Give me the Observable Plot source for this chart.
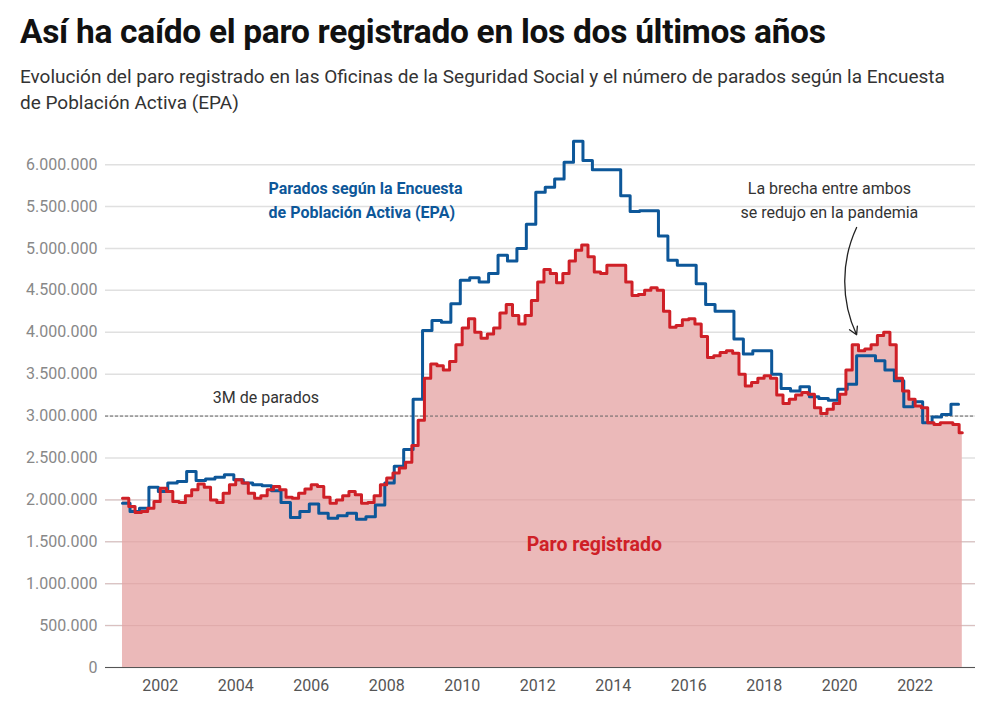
<!DOCTYPE html>
<html><head><meta charset="utf-8">
<script src="https://cdn.jsdelivr.net/npm/d3@7"></script>
<script src="https://cdn.jsdelivr.net/npm/@observablehq/plot@0.6"></script>
<style>
body{margin:0;background:#fff;font-family:Roboto,sans-serif;}
#wrap{padding:0 0 0 20px;width:950px;height:130px;box-sizing:border-box}
h1{font-size:33.5px;font-weight:700;margin:0;padding-top:12px;color:#111;letter-spacing:-0.3px;line-height:40px}
p{font-size:19px;color:#333;margin:12px 0 0 0;line-height:26px}
</style></head><body>
<div id="wrap">
<h1>Así ha caído el paro registrado en los dos últimos años</h1>
<p>Evolución del paro registrado en las Oficinas de la Seguridad Social y el número de parados según la Encuesta de Población Activa (EPA)</p>
</div>
<div id="chart"></div>
<script>
// EPA quarterly (millions), first value from Jan 2001
const epaValues = [1.96,1.86,1.90,2.15,2.10,2.20,2.22,2.34,2.23,2.25,2.27,2.30,2.24,2.20,2.18,2.17,
2.11,1.97,1.79,1.86,1.95,1.84,1.78,1.81,1.84,1.77,1.80,1.94,2.20,2.40,2.60,3.20,
4.02,4.14,4.12,4.34,4.62,4.65,4.60,4.70,4.92,4.85,5.00,5.29,5.67,5.73,5.83,6.03,
6.28,6.05,5.94,5.94,5.94,5.63,5.44,5.45,5.45,5.15,4.86,4.80,4.80,4.58,4.33,4.25,
4.25,3.92,3.74,3.78,3.78,3.50,3.33,3.30,3.35,3.23,3.21,3.19,3.32,3.38,3.72,3.72,
3.66,3.55,3.42,3.11,3.17,2.92,2.99,3.02,3.14];
// Paro registrado, every two months (Jan, Mar, May, Jul, Sep, Nov), millions
const paroValues = [
2.02,1.92,1.85,1.86,1.90,1.98, 2.14,2.10,1.98,1.97,2.05,2.12, 2.19,2.15,2.00,1.97,2.08,2.18,
2.24,2.20,2.08,2.02,2.05,2.12, 2.16,2.12,2.03,2.02,2.08,2.13, 2.18,2.16,2.03,1.96,2.00,2.05,
2.10,2.06,1.96,1.97,2.05,2.18, 2.26,2.32,2.38,2.45,2.65,2.95, 3.45,3.62,3.60,3.55,3.65,3.85,
4.05,4.16,4.00,3.93,3.98,4.05, 4.23,4.33,4.20,4.10,4.20,4.38, 4.60,4.75,4.70,4.59,4.70,4.85,
4.98,5.04,4.90,4.72,4.70,4.80, 4.80,4.80,4.60,4.44,4.45,4.50, 4.53,4.50,4.25,4.06,4.08,4.15,
4.16,4.10,3.95,3.70,3.72,3.76, 3.78,3.75,3.50,3.36,3.40,3.45, 3.48,3.45,3.25,3.15,3.20,3.25,
3.28,3.26,3.10,3.03,3.08,3.15, 3.26,3.55,3.85,3.78,3.80,3.85, 3.96,4.00,3.85,3.45,3.30,3.20,
3.12,3.10,2.92,2.90,2.92,2.92, 2.90,2.80];
const xTicks = [2002,2004,2006,2008,2010,2012,2014,2016,2018,2020,2022];
const yTicks = [0,500000,1000000,1500000,2000000,2500000,3000000,3500000,4000000,4500000,5000000,5500000,6000000];

const epa = epaValues.map((v,i)=>({x: i===0?2001:2001+0.25*i-0.05, y:v*1e6}));
epa.push({x:2023.15, y:epaValues[epaValues.length-1]*1e6});
const paro = paroValues.map((v,i)=>({x:2001+i/6, y:v*1e6}));
paro.push({x:2023.25, y:paroValues[paroValues.length-1]*1e6});

const fmt = d3.formatLocale({decimal:",",thousands:".",grouping:[3],currency:["","€"]}).format(",");
const blue="#0d5799", red="#cf2027";

const chart = Plot.plot({
  width:987, height:580, marginLeft:105, marginRight:12, marginTop:9, marginBottom:43,
  style:{fontFamily:"Roboto, sans-serif", fontSize:"16px", background:"#fff"},
  x:{domain:[2000.55,2023.6], ticks:xTicks, tickFormat:d=>String(d), tickSize:0, label:null},
  y:{domain:[0,6300000], ticks:yTicks, tickFormat:fmt, tickSize:0, label:null},
  marks:[
    Plot.gridY(yTicks,{stroke:"#e0e0e0", strokeOpacity:1, strokeWidth:1.5}),
    Plot.areaY(paro,{x:"x", y:"y", curve:"step-after", fill:"#ebb9b9"}),
    Plot.gridY(yTicks.filter(d=>d<=2000000),{stroke:"#d59c9c", strokeOpacity:0.5}),
    Plot.ruleY([3000000],{stroke:"#666", strokeDasharray:"3,2", strokeWidth:1}),
    Plot.ruleY([0],{stroke:"#555", strokeWidth:1}),
    Plot.axisY({ticks:yTicks, tickFormat:fmt, tickSize:0, tickPadding:8, fill:"#888", fontSize:16}),
    Plot.axisX({ticks:xTicks, tickFormat:d=>String(d), tickSize:0, tickPadding:12, fill:"#555", fontSize:16}),
    Plot.line(epa,{x:"x", y:"y", curve:"step-after", stroke:blue, strokeWidth:3}),
    Plot.line(paro,{x:"x", y:"y", curve:"step-after", stroke:red, strokeWidth:3}),
    Plot.text(["3M de parados"],{x:2004.8, y:3220000, fontSize:16, fill:"#333"}),
    Plot.text(["Parados según la Encuesta\nde Población Activa (EPA)"],{x:2004.87, y:5600000, textAnchor:"start", fontSize:16, fontWeight:"bold", fill:blue, lineHeight:1.5}),
    Plot.text(["Paro registrado"],{x:2013.5, y:1460000, fontSize:19.5, fontWeight:"bold", fill:red}),
    Plot.text(["La brecha entre ambos\nse redujo en la pandemia"],{x:2019.73, y:5600000, fontSize:16, fill:"#333", lineHeight:1.5}),
    Plot.arrow([{x1:2020.45,y1:5250000,x2:2020.45,y2:3970000}],{x1:"x1",y1:"y1",x2:"x2",y2:"y2", bend:-25, stroke:"#222", strokeWidth:1.3, headLength:10})
  ]
});
document.getElementById("chart").appendChild(chart);
</script>
</body></html>
